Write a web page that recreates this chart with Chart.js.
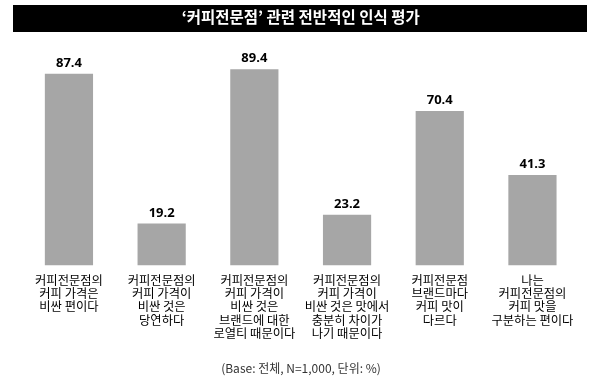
<!DOCTYPE html>
<html><head><meta charset="utf-8">
<script src="https://cdn.jsdelivr.net/npm/chart.js@4/dist/chart.umd.min.js"></script>
<style>html,body{margin:0;padding:0;background:#fff}#wrap{width:600px;height:384px;position:relative}</style>
</head><body><div id="wrap"><canvas id="c" width="600" height="384"></canvas></div>
<script>
const titleText = "‘커피전문점’ 관련 전반적인 인식 평가";
const footerText = "(Base: 전체, N=1,000, 단위: %)";
const categories = [
  ["커피전문점의", "커피 가격은", "비싼 편이다"],
  ["커피전문점의", "커피 가격이", "비싼 것은", "당연하다"],
  ["커피전문점의", "커피 가격이", "비싼 것은", "브랜드에 대한", "로열티 때문이다"],
  ["커피전문점의", "커피 가격이", "비싼 것은 맛에서", "충분히 차이가", "나기 때문이다"],
  ["커피전문점", "브랜드마다", "커피 맛이", "다르다"],
  ["나는", "커피전문점의", "커피 맛을", "구분하는 편이다"]
];
const values = [87.4, 19.2, 89.4, 23.2, 70.4, 41.3];

const KR = "'Noto Sans CJK KR', 'Noto Sans', sans-serif";

const titleBox = {
  id: 'titleBox',
  beforeDraw(chart) {
    const ctx = chart.ctx;
    ctx.save();
    ctx.fillStyle = '#000';
    ctx.fillRect(13, 5, 574, 27);
    ctx.restore();
  },
  afterDraw(chart) {
    const ctx = chart.ctx;
    ctx.save();
    const meta = chart.getDatasetMeta(0);
    ctx.font = "bold 13px 'Open Sans', sans-serif";
    ctx.fillStyle = '#000';
    ctx.textAlign = 'center';
    ctx.textBaseline = 'bottom';
    meta.data.forEach((bar, i) => {
      ctx.fillText(values[i].toFixed(1), bar.x, bar.y - 4);
    });
    ctx.font = "12px " + KR;
    ctx.fillStyle = '#333';
    ctx.textBaseline = 'middle';
    ctx.fillText(footerText, 301, 368);
    ctx.restore();
  }
};

new Chart(document.getElementById('c'), {
  type: 'bar',
  data: {
    labels: categories,
    datasets: [{
      data: values,
      backgroundColor: '#a6a6a6',
      borderWidth: 0,
      barPercentage: 0.52,
      categoryPercentage: 1.0
    }]
  },
  options: {
    responsive: false,
    animation: false,
    layout: { padding: { left: 22.6, right: 21.2, top: 0, bottom: 36 } },
    plugins: {
      legend: { display: false },
      tooltip: { enabled: false },
      title: {
        display: true,
        text: titleText,
        color: '#fff',
        font: { family: KR, size: 15.5, weight: 'bold', lineHeight: 1.2 },
        padding: { top: 8, bottom: 19.4 }
      }
    },
    scales: {
      x: {
        grid: { display: false, drawTicks: false },
        border: { display: false },
        ticks: {
          color: '#000',
          font: { family: KR, size: 12.3, lineHeight: 1.08 },
          padding: 8,
          maxRotation: 0,
          autoSkip: false
        }
      },
      y: {
        display: false,
        min: 0,
        max: 100
      }
    }
  },
  plugins: [titleBox]
});
</script>
</body></html>
